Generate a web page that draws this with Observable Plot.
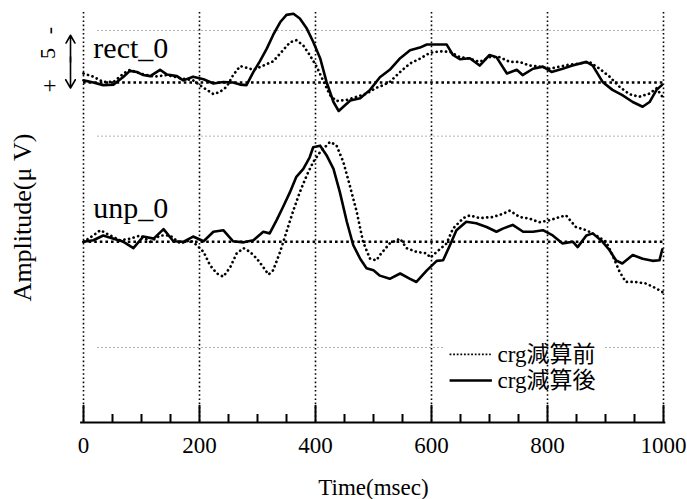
<!DOCTYPE html>
<html>
<head>
<meta charset="utf-8">
<script src="https://cdn.jsdelivr.net/npm/d3@7"></script>
<script src="https://cdn.jsdelivr.net/npm/@observablehq/plot@0.6"></script>
<style>
  html, body { margin: 0; padding: 0; background: #fff; }
  #chart svg { display: block; }
</style>
</head>
<body>
<div id="chart"></div>
<script>
// ---- data (time in msec, amplitude in µV, positive = downward) ----
const panels = ["rect_0", "unp_0"];
const seriesNames = ["crg減算前", "crg減算後"];
const xTicks = [0, 200, 400, 600, 800, 1000];
const minorTicks = [50, 100, 150, 250, 300, 350, 450, 500, 550, 650, 700, 750, 850, 900, 950];

const rectAfter = [[0,-0.2],[17,0],[34,0.25],[52,0.2],[69,-0.55],[80,-1.1],[92,-1.0],[103,-0.7],[115,-0.6],[132,-1.2],[144,-0.75],[161,-0.6],[172,-0.2],[189,-0.55],[207,-0.3],[224,0.1],[241,-0.05],[258,0],[270,0.2],[281,0.25],[293,-1.0],[304,-2.0],[316,-3.2],[327,-4.5],[339,-5.7],[350,-6.4],[362,-6.5],[373,-6.05],[385,-5.1],[396,-3.85],[408,-2.3],[419,-0.05],[431,1.85],[440,2.7],[448,2.3],[460,1.7],[477,1.5],[494,0.7],[511,-0.5],[528,-1.2],[546,-2.3],[563,-3.05],[580,-3.3],[592,-3.6],[609,-3.6],[626,-3.6],[637,-2.6],[649,-2.2],[666,-2.3],[683,-1.6],[700,-2.6],[712,-2.4],[730,-0.85],[747,-1.2],[757,-0.7],[775,-1.3],[792,-1.5],[807,-1.0],[826,-1.3],[843,-1.6],[867,-1.95],[878,-1.6],[895,-0.05],[912,0.7],[929,1.2],[947,1.85],[964,2.3],[976,1.85],[988,0.7],[998,0.2]];

const rectBefore = [[0,-0.85],[17,-0.55],[34,-0.05],[52,-0.05],[69,-0.85],[80,-1.2],[98,-0.85],[121,-0.55],[144,-0.7],[167,-0.4],[189,-0.2],[207,0.5],[224,1.1],[235,0.9],[247,0.4],[258,-0.7],[270,-1.55],[281,-1.4],[293,-1.2],[310,-1.6],[327,-2.0],[344,-3.05],[356,-3.8],[367,-4.0],[379,-3.5],[390,-2.6],[402,-1.5],[413,-0.2],[425,1.2],[436,1.75],[454,1.65],[471,1.35],[488,1.05],[505,0.5],[517,0.25],[528,-0.05],[546,-1.0],[563,-1.8],[580,-2.25],[597,-2.8],[614,-2.95],[632,-2.9],[649,-2.4],[666,-2.25],[683,-1.95],[700,-2.4],[717,-2.4],[735,-1.95],[752,-1.95],[769,-1.6],[786,-1.5],[804,-1.3],[821,-1.5],[838,-1.7],[855,-1.8],[872,-1.95],[890,-1.3],[907,-0.55],[924,0.4],[941,1.1],[958,1.35],[976,1.05],[988,0.55],[998,1.35]];

const unpAfter = [[0,0],[17,-0.15],[34,-0.6],[52,-0.3],[69,0],[86,0.6],[103,-0.5],[121,-0.3],[138,-1.2],[155,-0.05],[172,0],[189,-0.5],[207,-0.05],[224,-0.95],[241,-1.1],[258,-0.05],[276,0.05],[293,-0.15],[310,-0.95],[321,-0.8],[333,-2.05],[344,-3.3],[356,-4.7],[367,-6.15],[379,-6.9],[390,-8.0],[396,-8.95],[408,-9.1],[419,-8.2],[431,-6.9],[442,-4.7],[454,-1.9],[465,0.3],[477,1.6],[488,2.5],[500,2.7],[511,3.2],[528,3.5],[546,3.0],[563,3.5],[574,3.8],[592,2.7],[609,1.8],[620,1.75],[632,0.3],[643,-1.1],[660,-1.9],[677,-1.75],[695,-1.4],[712,-0.95],[723,-1.25],[740,-1.6],[758,-0.95],[775,-0.95],[792,-1.1],[809,-0.6],[826,0.15],[844,0],[852,0.5],[867,-0.6],[878,-0.8],[895,0],[907,0.8],[918,1.75],[929,2.05],[947,1.25],[964,1.6],[981,1.8],[993,1.75],[998,0.7]];

const unpBefore = [[0,0],[17,-0.6],[29,-1.1],[46,-0.6],[63,-0.15],[80,-0.3],[98,-0.6],[115,0],[132,-0.6],[149,-0.6],[167,0.15],[184,-0.15],[195,0.3],[207,0.95],[218,2.2],[230,3.0],[241,3.3],[253,2.4],[264,1.1],[276,0.6],[287,0.95],[299,1.6],[310,2.4],[319,3.1],[327,2.7],[339,0.95],[350,-0.95],[362,-3.0],[373,-4.7],[385,-6.3],[396,-7.55],[408,-8.5],[425,-9.45],[436,-9.15],[448,-7.55],[459,-5.35],[471,-2.85],[482,0],[494,1.6],[505,1.75],[511,1.25],[528,0.15],[546,-0.3],[557,0.6],[574,0.95],[592,1.1],[598,1.5],[609,0.95],[626,0.15],[637,-1.25],[655,-2.25],[666,-2.5],[683,-2.25],[706,-2.35],[723,-2.65],[735,-2.95],[752,-2.35],[769,-2.2],[786,-1.85],[804,-2.05],[821,-2.35],[832,-2.5],[849,-1.4],[867,-1.1],[884,-0.6],[901,0],[912,1.25],[924,2.8],[935,3.8],[952,3.8],[970,3.95],[987,4.4],[998,4.75]];

// ---- layout helpers (vertical offsets of each panel, in µV units) ----
const rectBase = 4.92;
const unpBase = 20.0;
const faintGrid = [0, 10, 30];
const FONT = "'Liberation Serif', 'Times New Roman', 'Noto Sans CJK JP', serif";

const P = d => d[0];
const shift = b => d => d[1] + b;
const dotStyle = {stroke: "black", strokeWidth: 2.7, strokeDasharray: "0.1,4.6", strokeLinecap: "round"};
const solidStyle = {stroke: "black", strokeWidth: 2.6};

const chart = Plot.plot({
  width: 687,
  height: 499,
  marginLeft: 83,
  marginRight: 24,
  marginTop: 12,
  marginBottom: 77,
  x: {domain: [0, 1000], axis: null},
  y: {domain: [-1.703, 37.10], reverse: true, axis: null},
  style: {fontFamily: FONT, background: "white", color: "black"},
  marks: [
    // faint horizontal grid
    Plot.ruleY(faintGrid, {x1: 25, x2: 1000, stroke: "#666", strokeWidth: 1, strokeDasharray: "1,3"}),
    // white legend background
    Plot.rect([0], {x1: () => 622, x2: () => 898, y1: () => 29.2, y2: () => 34.4, fill: "white"}),
    // vertical dotted grid
    Plot.ruleX(xTicks, {y1: -1.703, y2: 37.1, stroke: "black", strokeWidth: 1.6, strokeDasharray: "1.6,2.6"}),
    // panel zero lines
    Plot.ruleY([rectBase, unpBase], {x1: 0, x2: 1000, stroke: "black", strokeWidth: 2.6, strokeDasharray: "2.6,3"}),
    // curves
    Plot.line(rectBefore, {x: P, y: shift(rectBase), ...dotStyle}),
    Plot.line(rectAfter, {x: P, y: shift(rectBase), ...solidStyle}),
    Plot.line(unpBefore, {x: P, y: shift(unpBase), ...dotStyle}),
    Plot.line(unpAfter, {x: P, y: shift(unpBase), ...solidStyle}),
    // panel labels
    Plot.text([panels[0]], {x: () => 17, y: () => 1.74, text: d => d, textAnchor: "start", lineAnchor: "middle", fontSize: 30, fill: "black"}),
    Plot.text([panels[1]], {x: () => 17, y: () => 16.79, text: d => d, textAnchor: "start", lineAnchor: "middle", fontSize: 30, fill: "black"}),
    // x axis
    Plot.ruleY([37.1], {x1: -5, x2: 1004, stroke: "black", strokeWidth: 2}),
    Plot.ruleX(xTicks, {y1: 35.49, y2: 37.1, stroke: "black", strokeWidth: 2}),
    Plot.ruleX(minorTicks, {y1: 36.34, y2: 37.1, stroke: "black", strokeWidth: 2}),
    Plot.text(xTicks, {x: d => d, y: () => 37.1, dy: 23, text: d => String(d), fontSize: 23, lineAnchor: "middle", fill: "black"}),
    Plot.text(["Time(msec)"], {frameAnchor: "bottom", dy: 65, text: d => d, fontSize: 23, textAnchor: "middle", lineAnchor: "middle", fill: "black"}),
    Plot.text(["Amplitude(μ V)"], {frameAnchor: "left", dx: -61, rotate: -90, text: d => d, fontSize: 26, textAnchor: "middle", lineAnchor: "middle", fill: "black"}),
    // scale bar (5 µV)
    Plot.arrow([0], {x1: () => -22.4, x2: () => -22.4, y1: () => 3.0, y2: () => 0.45, stroke: "black", strokeWidth: 1.6, headLength: 9}),
    Plot.arrow([0], {x1: () => -22.4, x2: () => -22.4, y1: () => 2.5, y2: () => 5.45, stroke: "black", strokeWidth: 1.6, headLength: 9}),
    Plot.text(["5"], {x: () => -62, y: () => 2.18, rotate: -90, text: d => d, fontSize: 22, textAnchor: "middle", lineAnchor: "middle", fill: "black"}),
    Plot.text(["+"], {x: () => -58, y: () => 5.2, text: d => d, fontSize: 24, textAnchor: "middle", lineAnchor: "middle", fill: "black"}),
    Plot.text(["-"], {x: () => -60, y: () => 0.0, rotate: -90, text: d => d, fontSize: 22, textAnchor: "middle", lineAnchor: "middle", fill: "black"}),
    // legend
    Plot.ruleY([30.66], {x1: 632, x2: 703, stroke: "black", strokeWidth: 1.8, strokeDasharray: "1.8,1.8"}),
    Plot.ruleY([33.12], {x1: 632, x2: 705, stroke: "black", strokeWidth: 2.4}),
    Plot.text([seriesNames[0]], {x: () => 714, y: () => 30.66, text: d => d, textAnchor: "start", lineAnchor: "middle", fontSize: 23, fill: "black"}),
    Plot.text([seriesNames[1]], {x: () => 714, y: () => 33.12, text: d => d, textAnchor: "start", lineAnchor: "middle", fontSize: 23, fill: "black"})
  ]
});
document.getElementById("chart").appendChild(chart);
</script>
</body>
</html>
